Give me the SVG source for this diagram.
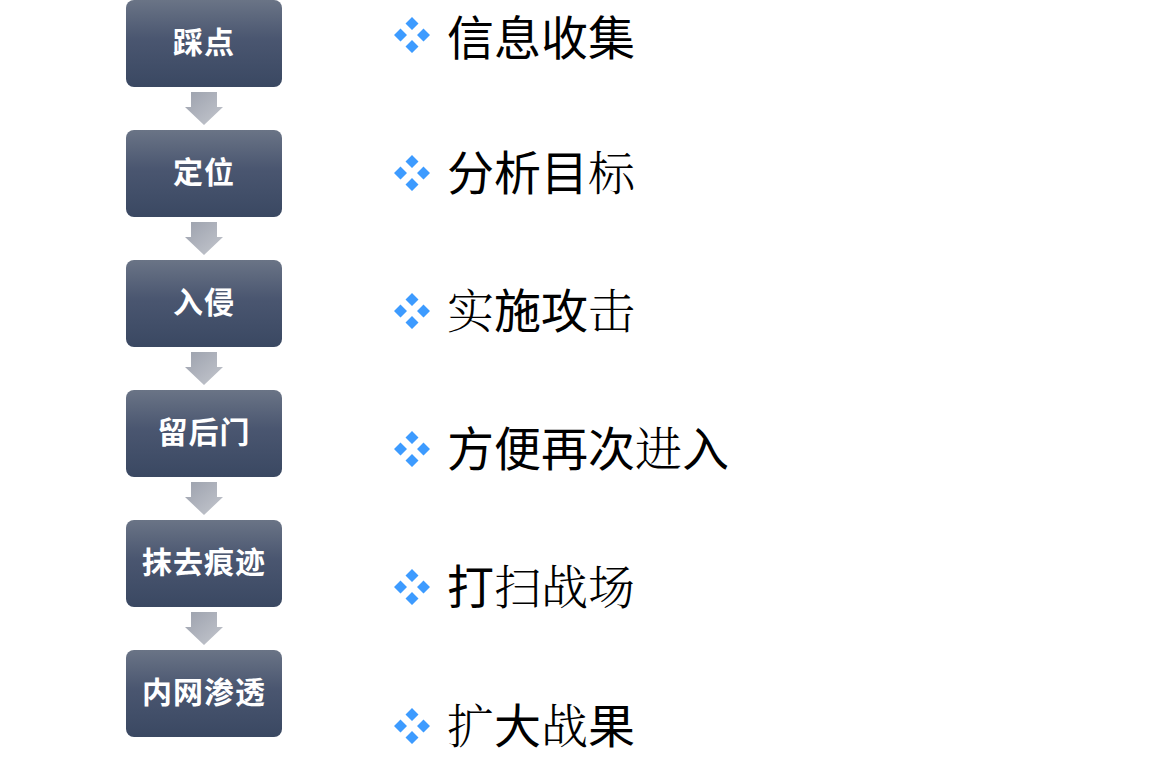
<svg xmlns="http://www.w3.org/2000/svg" width="1159" height="771" viewBox="0 0 1159 771">
<style>
.box{fill:url(#bg)}
.bt{font-family:"Liberation Sans","Noto Sans CJK SC",sans-serif;font-weight:bold;font-size:30px;fill:#fff;text-anchor:middle;letter-spacing:1px}
.arr{fill:url(#ag)}
.rt{font-family:"Noto Sans CJK SC",sans-serif;font-size:47px;fill:#000;font-weight:400}
.sf{font-family:"Noto Serif CJK SC","AR PL UMing CN",serif;font-weight:300}
.bul{fill:#3d9bff}
</style>
<defs>
<linearGradient id="bg" x1="0" y1="0" x2="0" y2="1">
<stop offset="0" stop-color="#6a7486"/>
<stop offset="0.45" stop-color="#4a5670"/>
<stop offset="1" stop-color="#3a4862"/>
</linearGradient>
<linearGradient id="ag" x1="0" y1="0" x2="1" y2="1">
<stop offset="0" stop-color="#9ca1ad"/>
<stop offset="1" stop-color="#c4c7ce"/>
</linearGradient>
<g id="bullet">
<path class="bul" d="M0,-18 L6.5,-11.5 L0,-5 L-6.5,-11.5Z M0,18 L6.5,11.5 L0,5 L-6.5,11.5Z M-18,0 L-11.5,-6.5 L-5,0 L-11.5,6.5Z M18,0 L11.5,-6.5 L5,0 L11.5,6.5Z"/>
</g>
<path id="arrow" d="M-13,0 H13 V15 H19 L0,33 L-19,15 H-13Z"/>
</defs>
<rect width="1159" height="771" fill="#fff"/>
<g id="connectors">
<use href="#arrow" class="arr" x="204" y="92"/>
<use href="#arrow" class="arr" x="204" y="222"/>
<use href="#arrow" class="arr" x="204" y="352"/>
<use href="#arrow" class="arr" x="204" y="482"/>
<use href="#arrow" class="arr" x="204" y="612"/>
</g>
<g id="n1"><rect class="box" x="126" y="0" width="156" height="87" rx="8"/><text class="bt" x="204" y="53">踩点</text></g>
<g id="n2"><rect class="box" x="126" y="130" width="156" height="87" rx="8"/><text class="bt" x="204" y="183">定位</text></g>
<g id="n3"><rect class="box" x="126" y="260" width="156" height="87" rx="8"/><text class="bt" x="204" y="313">入侵</text></g>
<g id="n4"><rect class="box" x="126" y="390" width="156" height="87" rx="8"/><text class="bt" x="204" y="443">留后门</text></g>
<g id="n5"><rect class="box" x="126" y="520" width="156" height="87" rx="8"/><text class="bt" x="204" y="573">抹去痕迹</text></g>
<g id="n6"><rect class="box" x="126" y="650" width="156" height="87" rx="8"/><text class="bt" x="204" y="703">内网渗透</text></g>
<g id="items">
<use href="#bullet" x="412" y="35"/>
<text class="rt" x="447" y="55">信息收集</text>
<use href="#bullet" x="412" y="173"/>
<text class="rt" x="447" y="190">分析目<tspan class="sf">标</tspan></text>
<use href="#bullet" x="412" y="311"/>
<text class="rt" x="447" y="328"><tspan class="sf">实</tspan>施攻<tspan class="sf">击</tspan></text>
<use href="#bullet" x="412" y="449"/>
<text class="rt" x="447" y="466">方便再次<tspan class="sf">进</tspan>入</text>
<use href="#bullet" x="412" y="587"/>
<text class="rt" x="447" y="604">打<tspan class="sf">扫战场</tspan></text>
<use href="#bullet" x="412" y="726"/>
<text class="rt" x="447" y="743"><tspan class="sf">扩</tspan>大<tspan class="sf">战</tspan>果</text>
</g>
</svg>
